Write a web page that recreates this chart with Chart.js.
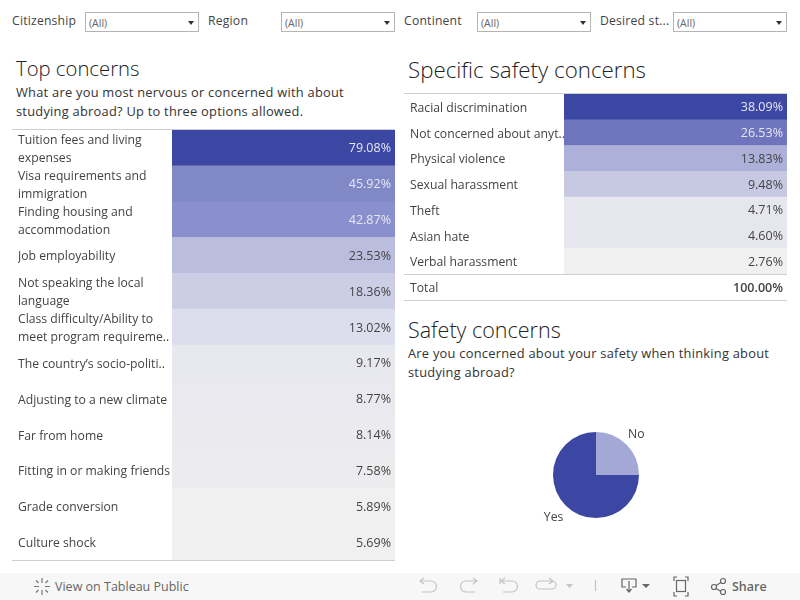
<!DOCTYPE html>
<html>
<head>
<meta charset="utf-8">
<script src="https://cdn.jsdelivr.net/npm/chart.js@4"></script>
<style>
  html, body { margin: 0; padding: 0; background: #fff; }
  body { width: 800px; height: 600px; position: relative; overflow: hidden; font-family: "Open Sans", sans-serif; color: #333; }
  .abs { position: absolute; white-space: nowrap; }
  .filter-label { font-size: 12.2px; top: 12px; color: #444; letter-spacing: .2px; }
  .select { position: absolute; top: 12px; width: 109px; height: 18px; border: 1px solid #b4b4b4; font-size: 10.5px; line-height: 20px; padding-left: 3px; color: #666; }
  .select::after { content: ""; position: absolute; right: 4px; top: 8px; border: 3px solid transparent; border-top: 4px solid #333; border-bottom: 0; }
  .title { font-weight: 300; color: #222; }
  .subtitle { font-size: 12.85px; line-height: 19px; color: #333; letter-spacing: .25px; }
  .rule { position: absolute; height: 1px; background: #cfcfcf; }
  canvas { position: absolute; }
  .box { position: absolute; }
  #toolbar { position: absolute; left: 0; top: 573px; width: 800px; height: 27px; background: #f7f7f7; }
  #toolbar span { position: absolute; top: 5px; font-size: 12.5px; color: #666; }
  #toolbar svg { position: absolute; left: 0; top: 0; }
</style>
</head>
<body>

<div class="abs filter-label" style="left:12px">Citizenship</div>
<div class="select" style="left:85px">(All)</div>
<div class="abs filter-label" style="left:208px">Region</div>
<div class="select" style="left:281px">(All)</div>
<div class="abs filter-label" style="left:404px">Continent</div>
<div class="select" style="left:477px">(All)</div>
<div class="abs filter-label" style="left:600px">Desired st...</div>
<div class="select" style="left:673px">(All)</div>

<div class="abs title" style="left:16px;top:54px;font-size:20.3px">Top concerns</div>
<div class="abs subtitle" style="left:16px;top:83px">What are you most nervous or concerned with about<br>studying abroad? Up to three options allowed.</div>
<div class="rule" style="left:12px;top:129px;width:383px"></div>
<div class="box" style="left:12px;top:130px;width:383px;height:430px"><canvas id="topChart"></canvas></div>
<div class="rule" style="left:12px;top:560px;width:383px"></div>

<div class="abs title" style="left:408px;top:54px;font-size:22.3px">Specific safety concerns</div>
<div class="rule" style="left:404px;top:93px;width:383px"></div>
<div class="box" style="left:404px;top:94px;width:383px;height:206px"><canvas id="safetyChart"></canvas></div>
<div class="rule" style="left:404px;top:274px;width:383px"></div>
<div class="rule" style="left:404px;top:300px;width:383px"></div>

<div class="abs title" style="left:408px;top:315px;font-size:21.5px">Safety concerns</div>
<div class="abs subtitle" style="left:408px;top:344px">Are you concerned about your safety when thinking about<br>studying abroad?</div>
<div class="box" style="left:496px;top:395px;width:200px;height:160px"><canvas id="pieChart"></canvas></div>

<div id="toolbar">
  <svg width="800" height="27" fill="none" stroke-width="1.2">
    <g stroke="#777">
      <path d="M42 5v5M42 17v5M34 13.500h5M45 13.500h5M36 7.500l2.500 2.500M45.500 17l2.500 2.500M48 7.500l-2.500 2.500M38.500 17l-2.500 2.500"/>
    </g>
    <g stroke="#c4c4c4">
      <path d="M421 8h10a5 5 0 0 1 0 11h-9M424 5l-4 3 4 3"/>
      <path d="M476 8h-10a5 5 0 0 0 0 11h9M473 5l4 3-4 3"/>
      <path d="M502 8h10a5 5 0 0 1 0 11h-9M505 5l-4 3 4 3M500 5v6"/>
      <path d="M552 8h-12a3.500 3.500 0 0 0 0 8h12a3.500 3.500 0 0 0 0-8M549 5l4 3-4 3"/>
      <path d="M595.500 7v11"/>
    </g>
    <path d="M566 11h7l-3.500 4z" fill="#c4c4c4"/>
    <g stroke="#666">
      <path d="M626 14h-4V6h14v8h-4M629 8v11M626.500 16l2.500 3 2.500-3"/>
      <path d="M677 4h-3v4M685 4h3v4M677 23h-3v-4M685 23h3v-4"/>
      <rect x="676.500" y="7.500" width="9" height="11"/>
      <circle cx="714" cy="14" r="2.500"/><circle cx="723" cy="8" r="2.500"/><circle cx="723" cy="19" r="2.500"/>
      <path d="M716 12.500l5-3M716 15.500l5 3"/>
    </g>
    <path d="M642 11h8l-4 4z" fill="#666"/>
  </svg>
  <span style="left:55px">View on Tableau Public</span>
  <span style="left:732px;font-weight:600">Share</span>
</div>

<script>
const topLabels = [
  ['Tuition fees and living', 'expenses'],
  ['Visa requirements and', 'immigration'],
  ['Finding housing and', 'accommodation'],
  'Job employability',
  ['Not speaking the local', 'language'],
  ['Class difficulty/Ability to', 'meet program requireme..'],
  'The country\u2019s socio-politi..',
  'Adjusting to a new climate',
  'Far from home',
  'Fitting in or making friends',
  'Grade conversion',
  'Culture shock'
];
const topValues = [79.08, 45.92, 42.87, 23.53, 18.36, 13.02, 9.17, 8.77, 8.14, 7.58, 5.89, 5.69];
const topColors = ['#3c46a3', '#8188c6', '#8a90cd', '#bbbddf', '#cccee6', '#dddeed', '#e8e8ef', '#e9e9ef', '#ebebef', '#ececee', '#f0f0f0', '#f0f0f0'];

const safetyLabels = ['Racial discrimination', 'Not concerned about anyt..', 'Physical violence', 'Sexual harassment', 'Theft', 'Asian hate', 'Verbal harassment', 'Total'];
const safetyValues = [38.09, 26.53, 13.83, 9.48, 4.71, 4.60, 2.76, 100.00];
const safetyColors = ['#3c46a3', '#6e75bd', '#adb1d9', '#c7c9e3', '#e6e6ef', '#e6e6ef', '#f0f0f0', '#ffffff'];

const pieLabels = ['No', 'Yes'];
const pieValues = [25, 75];
const pieColors = ['#a3a8d6', '#3c46a3'];

const fontFamily = '"Open Sans", sans-serif';

// draws the percentage at the right edge of each cell
const cellText = {
  id: 'cellText',
  beforeDraw(chart) {
    // row labels sit a little under the middle of the row
    chart.scales.y.getLabelItems().forEach(item => {
      if (!item.moved) {
        item.options.translation[1] += 1.5;
        item.moved = true;
      }
    });
  },
  afterDatasetsDraw(chart, args, opts) {
    const ctx = chart.ctx;
    ctx.save();
    ctx.textAlign = 'right';
    ctx.textBaseline = 'middle';
    chart.getDatasetMeta(0).data.forEach((bar, i) => {
      const isTotal = chart.data.labels[i] === 'Total';
      ctx.font = (isTotal ? '600 ' : '') + '12.5px ' + fontFamily;
      ctx.fillStyle = opts.lightRows.includes(i) ? '#e6e7f2' : '#444';
      ctx.fillText(opts.values[i].toFixed(2) + '%', bar.x - 4, bar.y + 1);
    });
    ctx.restore();
  }
};

function renderTable(id, labels, values, colors, lightRows) {
  return new Chart(document.getElementById(id), {
    type: 'bar',
    data: {
      labels: labels,
      datasets: [{
        data: values.map(() => [0, 1]), // every cell fills its row, the value is only text + colour
        backgroundColor: colors,
        borderWidth: 0,
        categoryPercentage: 1,
        barPercentage: 1
      }]
    },
    options: {
      indexAxis: 'y',
      responsive: true,
      maintainAspectRatio: false,
      animation: false,
      layout: { padding: { left: 6 } },
      plugins: {
        legend: { display: false },
        tooltip: { enabled: false },
        cellText: { values: values, lightRows: lightRows }
      },
      scales: {
        x: { display: false, min: 0, max: 1 },
        y: {
          grid: { display: false },
          border: { display: false },
          // no room for half labels above and below, the rows run edge to edge
          afterFit(scale) {
            scale.width = 154;
            scale.paddingTop = 0;
            scale.paddingBottom = 0;
          },
          ticks: {
            autoSkip: false,
            crossAlign: 'far',
            color: '#444',
            padding: 0,
            font: { family: fontFamily, size: 12.2, lineHeight: 1.47 }
          }
        }
      }
    },
    plugins: [cellText]
  });
}

renderTable('topChart', topLabels, topValues, topColors, [0, 1, 2]);
renderTable('safetyChart', safetyLabels, safetyValues, safetyColors, [0, 1]);

// pie labels sit just outside the slice, on its middle angle
const pieText = {
  id: 'pieText',
  afterDatasetsDraw(chart) {
    const ctx = chart.ctx;
    ctx.save();
    ctx.font = '12.2px ' + fontFamily;
    ctx.fillStyle = '#444';
    ctx.textAlign = 'center';
    ctx.textBaseline = 'middle';
    chart.getDatasetMeta(0).data.forEach((arc, i) => {
      const mid = (arc.startAngle + arc.endAngle) / 2;
      const r = arc.outerRadius + (i === 1 ? 17 : 14);
      ctx.fillText(chart.data.labels[i], arc.x + Math.cos(mid) * r, arc.y + Math.sin(mid) * r);
    });
    ctx.restore();
  }
};

new Chart(document.getElementById('pieChart'), {
  type: 'pie',
  data: {
    labels: pieLabels,
    datasets: [{ data: pieValues, backgroundColor: pieColors, borderWidth: 0 }]
  },
  options: {
    responsive: true,
    maintainAspectRatio: false,
    animation: false,
    layout: { padding: 37 },
    plugins: { legend: { display: false }, tooltip: { enabled: false } }
  },
  plugins: [pieText]
});
</script>
</body>
</html>
